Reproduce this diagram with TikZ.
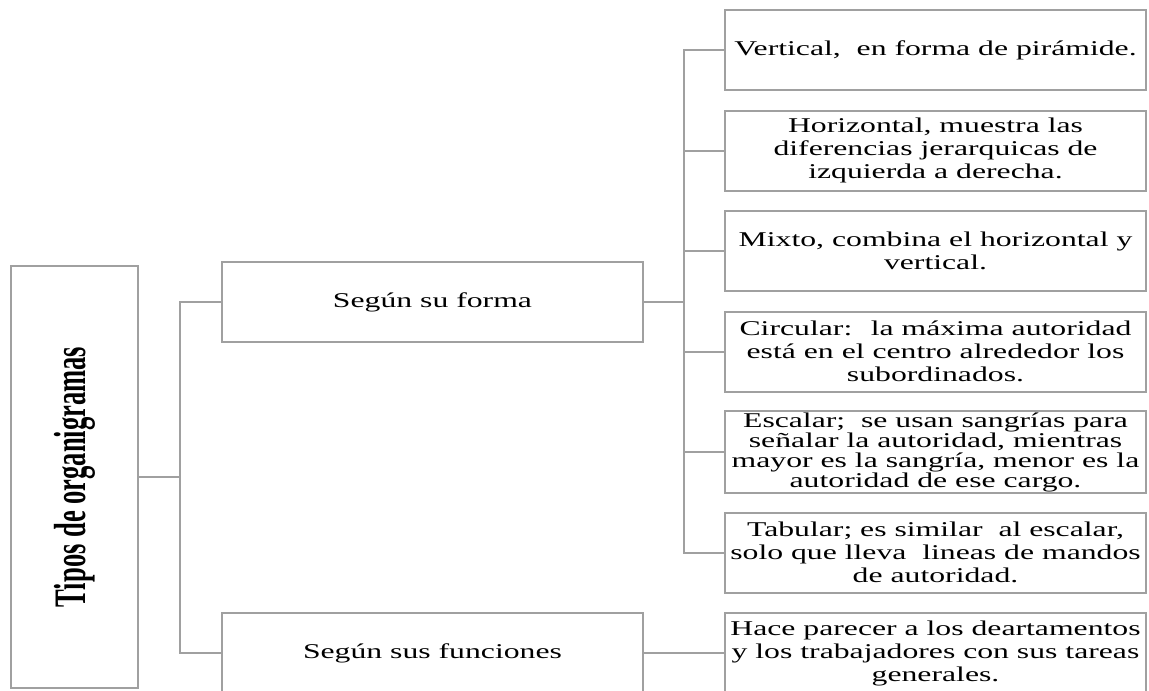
\documentclass[tikz,border=0pt]{standalone}
\usepackage{fontspec}
\usepackage{graphicx}
\setmainfont{Liberation Serif}[FakeStretch=1.51]
\newfontfamily\rootfont{Liberation Serif}[FakeStretch=0.59]
\usepackage{tikz}
\definecolor{boxgray}{RGB}{160,160,160}
\tikzset{
    orgbox/.style={draw=boxgray, line width=2pt, align=center, inner sep=1pt,
        font=\fontsize{21}{23}\selectfont},
    typebox/.style={orgbox, minimum width=421pt, minimum height=80pt},
    descbox/.style={orgbox, minimum width=421pt, minimum height=80pt},
    link/.style={draw=boxgray, line width=2pt},
}

\begin{document}
\begin{tikzpicture}[x=1pt, y=-1pt]
    % Page size
    \useasboundingbox (0,0) rectangle (1149,691);

    % Root box
    \node[orgbox, minimum width=127pt, minimum height=422pt] (root) at (74.5,477)
        {\rotatebox{90}{\rootfont\bfseries\fontsize{45}{50}\selectfont Tipos de organigramas}};

    % Kinds
    \node[typebox] (forma) at (432.5,302) {Según su forma};
    \node[typebox] (funciones) at (432.5,653) {Según sus funciones};

    % Descriptions
    \node[descbox] (vert) at (935.5,50) {Vertical,~ en forma de pirámide.};
    \node[descbox] (hori) at (935.5,150.5) {Horizontal, muestra las\\diferencias jerarquicas de\\izquierda a derecha.};
    \node[descbox] (mixto) at (935.5,251) {Mixto, combina el horizontal y\\vertical.};
    \node[descbox] (circ) at (935.5,351.5) {Circular:~ la máxima autoridad\\está en el centro alrededor los\\subordinados.};
    \node[descbox, font=\fontsize{21}{20}\selectfont] (esca) at (935.5,452)
        {Escalar;~ se usan sangrías para\\señalar la autoridad, mientras\\mayor es la sangría, menor es la\\autoridad de ese cargo.};
    \node[descbox] (tabu) at (935.5,552.5) {Tabular; es similar~ al escalar,\\solo que lleva~ lineas de mandos\\de autoridad.};
    \node[descbox] (hace) at (935.5,653) {Hace parecer a los deartamentos\\y los trabajadores con sus tareas\\generales.};

    % Connectors
    \coordinate (lspine) at (180,477);
    \coordinate (rspine) at (684,302);
    \draw[link] (root.east) -- (lspine) |- (forma.west);
    \draw[link] (root.east) -- (lspine) |- (funciones.west);
    \foreach \c in {vert,hori,mixto,circ,esca,tabu} {
        \draw[link] (forma.east) -- (rspine) |- (\c.west);
    }
    \draw[link] (funciones.east) -- (hace.west);
\end{tikzpicture}
\end{document}
